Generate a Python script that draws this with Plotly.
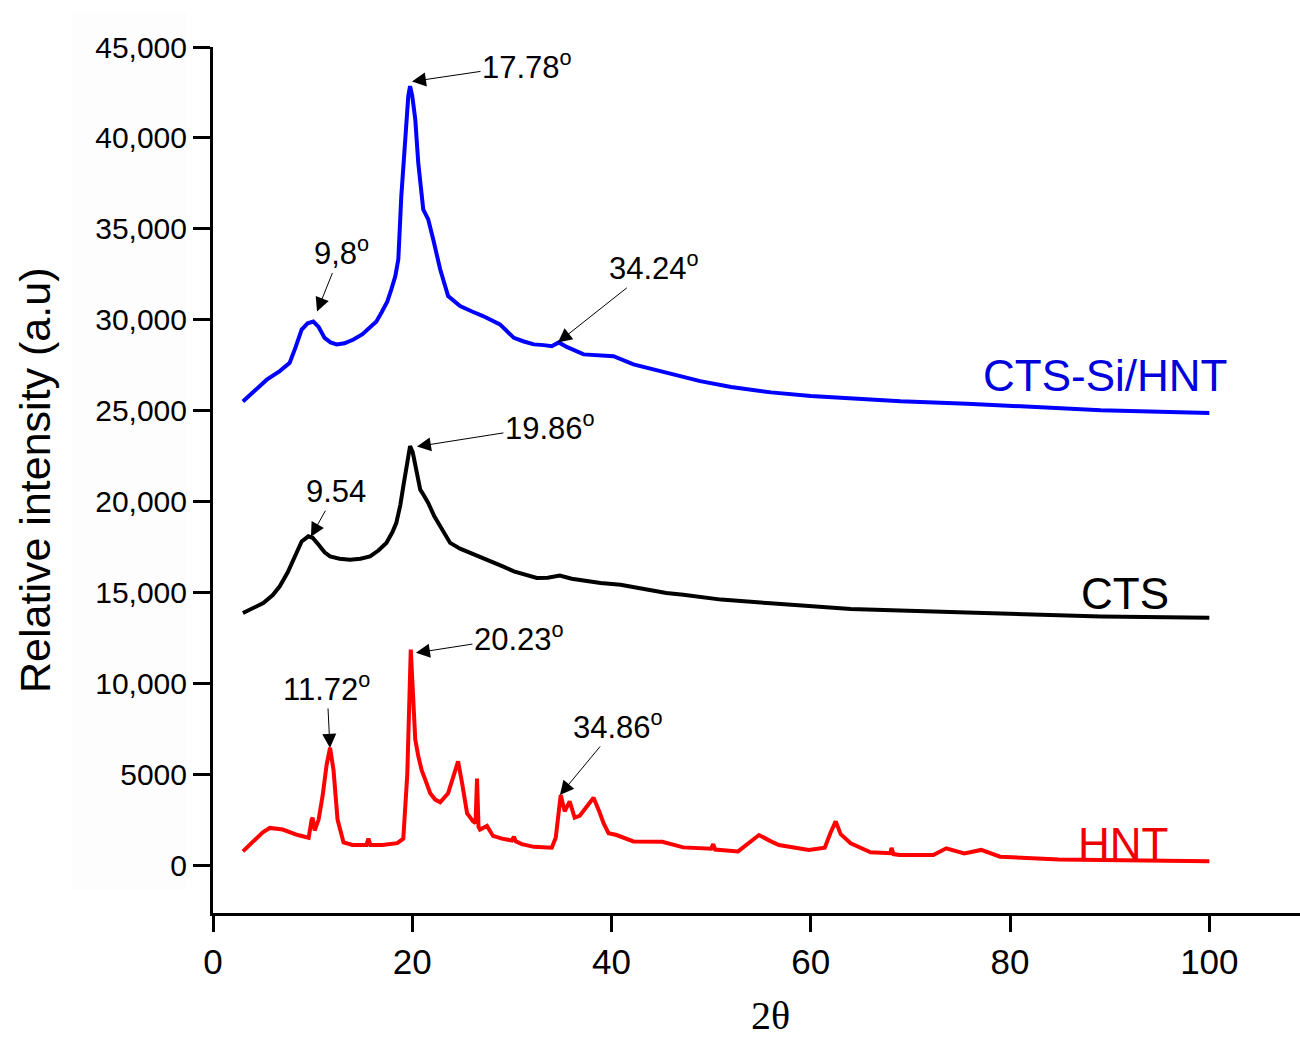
import plotly.graph_objects as go

# ---------------- data ----------------
hnt_x = [3.0, 4.0, 5.0, 5.7, 7.0, 8.5, 9.6, 9.9, 10.0, 10.2, 10.6, 11.0, 11.4, 11.75, 12.1, 12.5, 13.1, 14.0,
         15.4, 15.6, 15.8, 17.0, 18.5, 19.1, 19.5, 19.85, 20.1, 20.3, 20.6, 20.95, 21.3, 21.8, 22.3, 22.8, 23.6,
         24.2, 24.6, 25.0, 25.5, 26.1, 26.35, 26.5, 26.65, 26.8, 27.5, 28.1, 29.0, 30.0, 30.2, 30.4, 31.0, 32.2,
         34.0, 34.4, 34.7, 34.9, 35.3, 35.8, 36.3, 36.8, 37.5, 38.2, 38.8, 39.2, 39.7, 40.5, 42.2, 45.1, 47.2,
         50.0, 50.2, 50.4, 52.7, 54.0, 54.8, 56.0, 56.8, 59.8, 61.4, 62.0, 62.5, 63.0, 64.0, 66.0, 68.0, 68.1,
         68.3, 68.9, 72.3, 73.6, 75.4, 77.1, 79.0, 84.9, 93.3, 100.0]
hnt_y = [750, 1250, 1800, 2040, 1950, 1650, 1500, 2500, 2600, 1900, 2500, 3800, 5500, 6450, 5200, 2500, 1250, 1100,
         1100, 1450, 1100, 1100, 1200, 1450, 5000, 11850, 9000, 6900, 6000, 5200, 4700, 3950, 3600, 3450, 3950,
         4900, 5700, 4500, 2850, 2400, 2300, 4750, 2100, 1950, 2150, 1600, 1450, 1350, 1550, 1300, 1150, 1000,
         950, 1500, 3000, 3850, 2950, 3500, 2600, 2700, 3200, 3700, 2900, 2300, 1750, 1650, 1300, 1280, 970,
         900, 1150, 850, 750, 1300, 1650, 1300, 1100, 830, 950, 1800, 2400, 1700, 1200, 700, 650, 950,
         600, 550, 550, 920, 640, 830, 460, 300, 270, 200]

cts_x = [3.0, 4.0, 5.05, 6.0, 6.7, 7.5, 8.06, 8.9, 9.57, 10.0, 10.6, 11.2, 11.75, 12.7, 13.75, 14.8, 15.76, 16.6,
         17.4, 18.0, 18.4, 18.8, 19.1, 19.5, 19.78, 20.05, 20.3, 20.8, 21.2, 21.6, 22.2, 22.8, 23.3, 23.8, 24.8,
         25.8, 27.0, 28.1, 29.2, 30.2, 31.3, 32.5, 33.6, 34.8, 36.0, 37.5, 38.9, 40.9, 43.0, 45.5, 47.2, 51.0,
         55.6, 60.0, 64.0, 72.3, 80.7, 89.1, 100.0]
cts_y = [13860, 14100, 14410, 14850, 15330, 16100, 16800, 17800, 18080, 18000, 17620, 17200, 16980, 16850, 16800,
         16850, 16980, 17300, 17720, 18300, 18820, 19800, 20830, 22300, 23050, 22700, 21940, 20650, 20300, 19920,
         19200, 18630, 18100, 17720, 17400, 17170, 16950, 16700, 16400, 16150, 15950, 15790, 15800, 15920, 15750,
         15600, 15510, 15420, 15200, 14960, 14870, 14600, 14410, 14220, 14080, 13950, 13800, 13670, 13600]

ctssi_x = [3.0, 4.2, 5.4, 6.7, 7.7, 8.3, 8.9, 9.5, 10.07, 10.6, 11.2, 11.8, 12.4, 13.2, 14.1, 15.0, 15.8, 16.4,
           16.9, 17.5, 17.9, 18.3, 18.6, 18.9, 19.3, 19.6, 19.78, 20.0, 20.3, 20.6, 21.1, 21.6, 22.1, 22.8, 23.6,
           24.8, 26.0, 27.1, 28.8, 30.2, 31.2, 32.2, 33.2, 34.0, 34.7, 35.5, 37.2, 38.7, 40.2, 42.2, 45.5, 48.9,
           52.0, 56.0, 60.0, 65.0, 69.0, 75.7, 82.4, 89.1, 100.0]
ctssi_y = [25500, 26100, 26700, 27170, 27630, 28500, 29460, 29800, 29900, 29600, 29000, 28750, 28640, 28700, 28910,
           29200, 29560, 29900, 30380, 31000, 31670, 32400, 33320, 36800, 39930, 42300, 42850, 42300, 41030, 38640,
           36070, 35520, 34420, 32770, 31300, 30750, 30450, 30200, 29740, 29000, 28800, 28640, 28600, 28540, 28750,
           28500, 28090, 28050, 27990, 27540, 27080, 26620, 26300, 26000, 25800, 25620, 25510, 25380, 25180, 25020,
           24870]

x_ticks = [0, 20, 40, 60, 80, 100]
y_ticks = [0, 5000, 10000, 15000, 20000, 25000, 30000, 35000, 40000, 45000]
y_tick_text = ["0", "5000", "10,000", "15,000", "20,000", "25,000", "30,000", "35,000", "40,000", "45,000"]

# peak annotations: text, x, y (tip), pixel offset of text
peak_text = ["17.78<sup>o</sup>", "9,8<sup>o</sup>", "34.24<sup>o</sup>", "19.86<sup>o</sup>", "9.54",
             "20.23<sup>o</sup>", "11.72<sup>o</sup>", "34.86<sup>o</sup>"]
peak_x = [19.97, 10.44, 34.62, 20.47, 9.83, 20.37, 11.74, 34.82]
peak_y = [43100, 30450, 28750, 23020, 18060, 11670, 6440, 3850]
peak_ax = [115, 24, 96, 133, 25, 103, -3, 58]
peak_ay = [-17, -60, -76, -21, -45, -16, -61, -70]

series_names = ["CTS-Si/HNT", "CTS", "HNT"]
series_colors = ["#0000ff", "#000000", "#ff0000"]
label_colors = ["#0000dd", "#000000", "#ee0000"]
label_x = [89.5, 91.5, 91.3]
label_y = [26955, 14910, 1210]

FONT = "Arial, Liberation Sans, sans-serif"

fig = go.Figure()
for name, xs, ys, col in zip(series_names, [ctssi_x, cts_x, hnt_x], [ctssi_y, cts_y, hnt_y], series_colors):
    fig.add_trace(go.Scatter(x=xs, y=ys, mode="lines", name=name,
                             line=dict(color=col, width=4)))

annotations = []
for t, x, y, ax, ay in zip(peak_text, peak_x, peak_y, peak_ax, peak_ay):
    annotations.append(dict(x=x, y=y, xref="x", yref="y", text=t, showarrow=True,
                            ax=ax, ay=ay, arrowhead=2, arrowsize=2.8, arrowwidth=1,
                            arrowcolor="#000000", standoff=0,
                            font=dict(family=FONT, size=31, color="#000000")))
for t, x, y, c in zip(series_names, label_x, label_y, label_colors):
    annotations.append(dict(x=x, y=y, xref="x", yref="y", text=t, showarrow=False,
                            font=dict(family=FONT, size=44, color=c)))
# axis titles
annotations.append(dict(x=-0.1638, y=0.5, xref="paper", yref="paper", text="Relative intensity (a.u)",
                        textangle=-90, showarrow=False, xanchor="center", yanchor="middle",
                        font=dict(family=FONT, size=43, color="#000000")))
annotations.append(dict(x=(770 - 213) / 1087, y=-(1015 - 913) / 866, xref="paper", yref="paper", text="2θ",
                        showarrow=False, xanchor="center", yanchor="middle",
                        font=dict(family="Liberation Serif, Times New Roman, serif", size=40, color="#000000")))

fig.update_layout(
    width=1300, height=1042,
    margin=dict(l=213, r=0, t=47, b=129),
    paper_bgcolor="white", plot_bgcolor="white",
    showlegend=False,
    annotations=annotations,
    shapes=[dict(type="rect", xref="paper", yref="paper", x0=-0.1297, x1=-0.0239, y0=0.0266, y1=1.0404,
                 fillcolor="#fdfdfd", line=dict(width=0), layer="below")],
    xaxis=dict(range=[0, 109.1], tickvals=x_ticks, ticktext=[str(v) for v in x_ticks],
               showgrid=False, zeroline=False, showline=True, linecolor="black", linewidth=3,
               ticks="outside", ticklen=16, tickwidth=3, tickcolor="black",
               tickfont=dict(family=FONT, size=35, color="black")),
    yaxis=dict(range=[-2640, 45000], tickvals=y_ticks, ticktext=y_tick_text,
               showgrid=False, zeroline=False, showline=True, linecolor="black", linewidth=3,
               ticks="outside", ticklen=17, tickwidth=3, tickcolor="black",
               tickfont=dict(family=FONT, size=30, color="black")),
)

fig.write_html("out.html")
